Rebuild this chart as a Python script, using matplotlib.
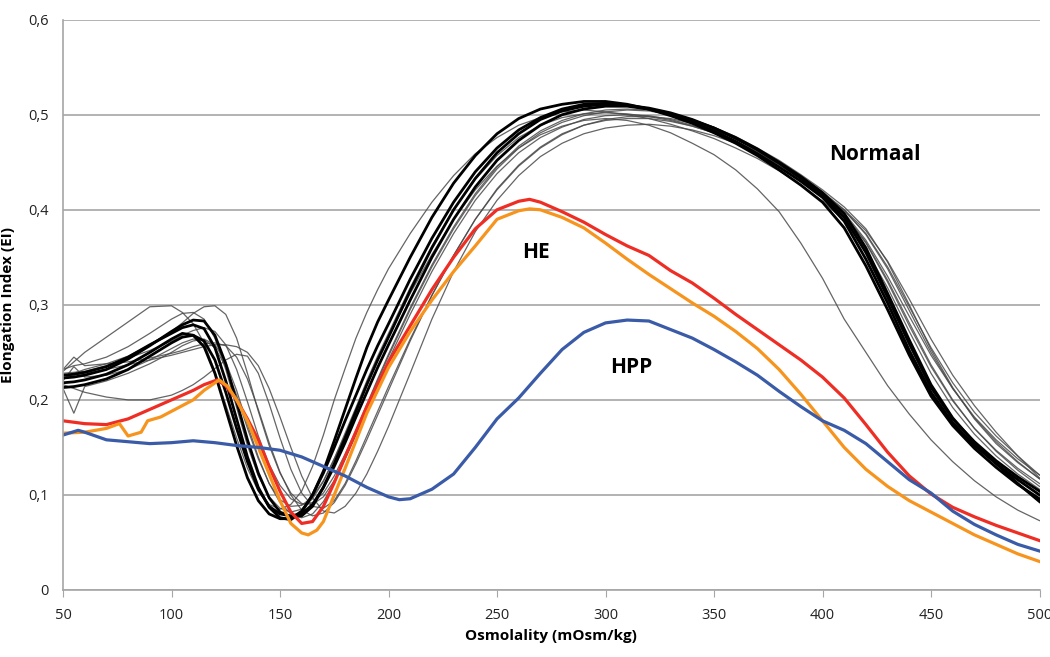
import matplotlib
matplotlib.use("Agg")
import matplotlib.pyplot as plt
from matplotlib.ticker import FuncFormatter

plt.rcParams['font.family'] = ['Open Sans', 'DejaVu Sans']

# shared osmolality grid for the "Normaal" traces
xn = [50, 55, 60, 70, 80, 90, 100, 105, 110, 115, 120, 125, 130, 135, 140, 145,
      150, 155, 160, 165, 170, 175, 180, 185, 190, 195, 200, 210, 220, 230, 240,
      250, 260, 270, 280, 290, 300, 310, 320, 330, 340, 350, 360, 370, 380, 390,
      400, 410, 420, 430, 440, 450, 460, 470, 480, 490, 500]

# thick black normal traces
norm_a = [0.218, 0.219, 0.221, 0.227, 0.237, 0.250, 0.264, 0.270, 0.268, 0.256, 0.228, 0.190, 0.152, 0.118, 0.094, 0.080,
          0.075, 0.075, 0.083, 0.100, 0.123, 0.150, 0.178, 0.205, 0.232, 0.257, 0.280, 0.327, 0.370, 0.408, 0.440,
          0.465, 0.484, 0.497, 0.506, 0.511, 0.512, 0.510, 0.506, 0.500, 0.492, 0.483, 0.472, 0.459, 0.445, 0.430,
          0.413, 0.388, 0.348, 0.302, 0.252, 0.208, 0.176, 0.152, 0.133, 0.116, 0.100]
norm_b = [0.223, 0.224, 0.226, 0.232, 0.243, 0.257, 0.272, 0.279, 0.284, 0.283, 0.268, 0.238, 0.198, 0.158, 0.123, 0.097,
          0.082, 0.077, 0.078, 0.088, 0.108, 0.133, 0.160, 0.188, 0.216, 0.242, 0.266, 0.315, 0.360, 0.400, 0.433,
          0.460, 0.480, 0.495, 0.504, 0.509, 0.511, 0.510, 0.507, 0.502, 0.495, 0.486, 0.476, 0.464, 0.450, 0.435,
          0.418, 0.396, 0.360, 0.312, 0.263, 0.216, 0.181, 0.155, 0.133, 0.112, 0.093]
norm_c = [0.213, 0.214, 0.216, 0.222, 0.232, 0.246, 0.260, 0.266, 0.268, 0.262, 0.242, 0.208, 0.170, 0.135, 0.106, 0.088,
          0.080, 0.078, 0.080, 0.090, 0.108, 0.130, 0.155, 0.182, 0.208, 0.234, 0.258, 0.305, 0.350, 0.390, 0.424,
          0.452, 0.473, 0.489, 0.500, 0.506, 0.509, 0.509, 0.506, 0.501, 0.494, 0.486, 0.475, 0.463, 0.449, 0.433,
          0.415, 0.392, 0.355, 0.308, 0.259, 0.213, 0.180, 0.156, 0.136, 0.119, 0.104]
norm_d = [0.226, 0.227, 0.229, 0.235, 0.245, 0.258, 0.270, 0.276, 0.279, 0.275, 0.255, 0.220, 0.180, 0.140, 0.108, 0.087,
          0.076, 0.074, 0.082, 0.100, 0.125, 0.157, 0.190, 0.223, 0.255, 0.282, 0.305, 0.350, 0.392, 0.428, 0.457,
          0.480, 0.496, 0.506, 0.511, 0.514, 0.514, 0.511, 0.506, 0.499, 0.491, 0.481, 0.470, 0.457, 0.442, 0.426,
          0.408, 0.381, 0.341, 0.295, 0.247, 0.204, 0.173, 0.149, 0.129, 0.111, 0.096]

# thin grey normal traces
norm_t1 = [0.230, 0.240, 0.250, 0.266, 0.282, 0.298, 0.299, 0.292, 0.280, 0.260, 0.230, 0.195, 0.160, 0.128, 0.104, 0.090,
           0.085, 0.090, 0.104, 0.130, 0.163, 0.200, 0.233, 0.265, 0.292, 0.316, 0.338, 0.375, 0.408, 0.436, 0.459,
           0.476, 0.489, 0.497, 0.503, 0.505, 0.503, 0.500, 0.496, 0.490, 0.483, 0.475, 0.465, 0.454, 0.441, 0.426,
           0.409, 0.389, 0.358, 0.318, 0.272, 0.228, 0.192, 0.164, 0.141, 0.122, 0.106]
norm_t2 = [0.222, 0.228, 0.232, 0.238, 0.246, 0.258, 0.272, 0.281, 0.291, 0.298, 0.299, 0.290, 0.265, 0.228, 0.188, 0.152,
           0.123, 0.102, 0.091, 0.090, 0.098, 0.115, 0.138, 0.163, 0.190, 0.216, 0.242, 0.290, 0.335, 0.375, 0.410,
           0.438, 0.460, 0.476, 0.487, 0.495, 0.499, 0.500, 0.499, 0.495, 0.489, 0.481, 0.471, 0.460, 0.447, 0.432,
           0.416, 0.397, 0.368, 0.330, 0.288, 0.247, 0.212, 0.182, 0.158, 0.138, 0.121]
norm_t3 = [0.232, 0.236, 0.238, 0.245, 0.256, 0.270, 0.285, 0.291, 0.292, 0.285, 0.265, 0.232, 0.192, 0.152, 0.120, 0.098,
           0.086, 0.082, 0.085, 0.096, 0.114, 0.138, 0.165, 0.192, 0.220, 0.246, 0.270, 0.318, 0.362, 0.400, 0.432,
           0.457, 0.476, 0.489, 0.497, 0.501, 0.502, 0.501, 0.498, 0.494, 0.488, 0.481, 0.472, 0.461, 0.448, 0.433,
           0.416, 0.396, 0.365, 0.324, 0.278, 0.235, 0.199, 0.170, 0.147, 0.128, 0.112]
norm_t4 = [0.216, 0.212, 0.208, 0.203, 0.200, 0.200, 0.205, 0.210, 0.216, 0.224, 0.233, 0.242, 0.248, 0.246, 0.228, 0.196,
           0.160, 0.127, 0.102, 0.088, 0.086, 0.094, 0.112, 0.136, 0.162, 0.188, 0.214, 0.264, 0.310, 0.352, 0.390,
           0.422, 0.447, 0.466, 0.480, 0.489, 0.494, 0.496, 0.496, 0.493, 0.488, 0.481, 0.472, 0.461, 0.448, 0.433,
           0.417, 0.399, 0.375, 0.340, 0.298, 0.255, 0.218, 0.187, 0.162, 0.141, 0.121]
norm_t5 = [0.225, 0.226, 0.228, 0.232, 0.237, 0.242, 0.247, 0.250, 0.253, 0.256, 0.258, 0.258, 0.256, 0.250, 0.236, 0.212,
           0.182, 0.150, 0.120, 0.097, 0.083, 0.081, 0.088, 0.102, 0.122, 0.146, 0.172, 0.228, 0.285, 0.335, 0.377,
           0.410, 0.436, 0.456, 0.470, 0.480, 0.486, 0.489, 0.490, 0.488, 0.484, 0.478, 0.470, 0.460, 0.448, 0.434,
           0.418, 0.400, 0.378, 0.346, 0.306, 0.264, 0.226, 0.194, 0.166, 0.141, 0.118]
norm_t6 = [0.220, 0.235, 0.224, 0.226, 0.232, 0.242, 0.254, 0.260, 0.264, 0.263, 0.255, 0.235, 0.205, 0.170, 0.138, 0.112,
           0.095, 0.088, 0.089, 0.098, 0.115, 0.138, 0.163, 0.190, 0.217, 0.243, 0.267, 0.312, 0.353, 0.390, 0.421,
           0.446, 0.465, 0.479, 0.488, 0.494, 0.496, 0.494, 0.489, 0.481, 0.470, 0.458, 0.442, 0.422, 0.398, 0.365,
           0.328, 0.285, 0.250, 0.215, 0.185, 0.158, 0.135, 0.115, 0.098, 0.084, 0.073]
norm_t7 = [0.212, 0.186, 0.214, 0.220, 0.228, 0.238, 0.250, 0.257, 0.262, 0.264, 0.258, 0.240, 0.210, 0.174, 0.140, 0.112,
           0.092, 0.080, 0.076, 0.080, 0.093, 0.113, 0.138, 0.165, 0.193, 0.220, 0.246, 0.295, 0.340, 0.380, 0.415,
           0.443, 0.465, 0.481, 0.492, 0.499, 0.503, 0.505, 0.504, 0.500, 0.494, 0.486, 0.476, 0.464, 0.450, 0.434,
           0.416, 0.395, 0.366, 0.326, 0.281, 0.237, 0.200, 0.170, 0.146, 0.126, 0.109]
norm_t8 = [0.228, 0.229, 0.230, 0.236, 0.244, 0.252, 0.262, 0.268, 0.273, 0.276, 0.272, 0.258, 0.232, 0.198, 0.162, 0.132,
           0.110, 0.096, 0.090, 0.092, 0.102, 0.120, 0.143, 0.168, 0.195, 0.222, 0.248, 0.297, 0.342, 0.382, 0.417,
           0.445, 0.467, 0.483, 0.494, 0.501, 0.505, 0.506, 0.505, 0.501, 0.495, 0.487, 0.477, 0.465, 0.452, 0.437,
           0.421, 0.403, 0.380, 0.345, 0.300, 0.253, 0.213, 0.180, 0.154, 0.134, 0.117]
norm_t9 = [0.232, 0.245, 0.236, 0.238, 0.240, 0.244, 0.249, 0.252, 0.256, 0.259, 0.260, 0.257, 0.245, 0.222, 0.190, 0.155,
           0.124, 0.100, 0.084, 0.078, 0.081, 0.092, 0.110, 0.133, 0.158, 0.184, 0.210, 0.262, 0.310, 0.352, 0.390,
           0.421, 0.446, 0.465, 0.479, 0.489, 0.495, 0.498, 0.498, 0.496, 0.491, 0.484, 0.475, 0.464, 0.451, 0.436,
           0.419, 0.400, 0.374, 0.338, 0.294, 0.250, 0.212, 0.181, 0.156, 0.135, 0.117]

# HE patients (red, orange) and HPP patient (blue)
x_he1 = [50, 60, 70, 80, 90, 100, 110, 115, 121, 125, 130, 135, 140, 145, 150, 155, 160, 165, 170, 175, 180, 190,
         200, 210, 220, 230, 240, 250, 260, 265, 270, 280, 290, 300, 310, 320, 330, 340, 350, 360, 370, 380, 390,
         400, 410, 420, 430, 440, 450, 460, 470, 480, 490, 500]
y_he1 = [0.178, 0.175, 0.174, 0.180, 0.190, 0.200, 0.210, 0.216, 0.221, 0.215, 0.200, 0.180, 0.158, 0.130, 0.104,
         0.082, 0.070, 0.072, 0.088, 0.113, 0.140, 0.193, 0.240, 0.278, 0.316, 0.350, 0.380, 0.400, 0.409, 0.411,
         0.408, 0.398, 0.387, 0.374, 0.362, 0.352, 0.336, 0.323, 0.307, 0.290, 0.274, 0.258, 0.242, 0.224, 0.202,
         0.174, 0.145, 0.120, 0.101, 0.087, 0.077, 0.068, 0.060, 0.052]

x_he2 = [50, 60, 70, 76, 80, 86, 89, 95, 100, 110, 115, 122, 126, 130, 135, 140, 145, 150, 155, 160, 163, 167, 170,
         175, 180, 190, 200, 210, 220, 230, 240, 250, 260, 265, 270, 280, 290, 300, 310, 320, 330, 340, 350, 360,
         370, 380, 390, 400, 410, 420, 430, 440, 450, 460, 470, 480, 490, 500]
y_he2 = [0.165, 0.166, 0.170, 0.175, 0.162, 0.166, 0.178, 0.182, 0.188, 0.200, 0.210, 0.221, 0.214, 0.200, 0.178,
         0.150, 0.122, 0.094, 0.070, 0.060, 0.058, 0.063, 0.072, 0.100, 0.128, 0.186, 0.234, 0.272, 0.305, 0.335,
         0.362, 0.390, 0.399, 0.401, 0.400, 0.392, 0.381, 0.365, 0.348, 0.332, 0.317, 0.302, 0.288, 0.272, 0.254,
         0.232, 0.206, 0.178, 0.150, 0.127, 0.109, 0.094, 0.082, 0.070, 0.058, 0.048, 0.038, 0.030]

x_hpp = [50, 57, 60, 70, 80, 90, 100, 110, 120, 130, 140, 150, 160, 170, 180, 190, 200, 205, 210, 220, 230, 240,
         250, 260, 270, 280, 290, 300, 310, 320, 330, 340, 350, 360, 370, 380, 390, 400, 410, 420, 430, 440, 450,
         460, 470, 480, 490, 500]
y_hpp = [0.163, 0.168, 0.166, 0.158, 0.156, 0.154, 0.155, 0.157, 0.155, 0.152, 0.150, 0.147, 0.140, 0.130, 0.120,
         0.108, 0.098, 0.095, 0.096, 0.106, 0.122, 0.150, 0.180, 0.202, 0.228, 0.253, 0.271, 0.281, 0.284, 0.283,
         0.274, 0.265, 0.253, 0.240, 0.226, 0.209, 0.193, 0.178, 0.168, 0.154, 0.135, 0.116, 0.102, 0.083, 0.069,
         0.058, 0.048, 0.041]

thin = [norm_t1, norm_t2, norm_t3, norm_t4, norm_t5, norm_t6, norm_t7, norm_t8, norm_t9]
thick = [norm_a, norm_b, norm_c, norm_d]

fig = plt.figure(figsize=(10.5, 6.57), dpi=100)
ax = fig.add_axes([0.060, 0.102, 0.930, 0.868])

for y in thin:
    ax.plot(xn, y, color="#4a4a4a", lw=0.9, alpha=0.85)
for y in thick:
    ax.plot(xn, y, color="black", lw=2.0)

ax.plot(x_he1, y_he1, color="#ee2e24", lw=2.3)
ax.plot(x_he2, y_he2, color="#f7941d", lw=2.3)
ax.plot(x_hpp, y_hpp, color="#3a5ba8", lw=2.3)

ax.text(424, 0.458, "Normaal", fontsize=15, fontweight="bold", ha="center", va="center")
ax.text(268, 0.355, "HE", fontsize=15, fontweight="bold", ha="center", va="center")
ax.text(312, 0.234, "HPP", fontsize=15, fontweight="bold", ha="center", va="center")

ax.set_xlim(50, 500)
ax.set_ylim(0, 0.6)
ax.set_xticks(range(50, 501, 50))
ax.set_yticks([0, 0.1, 0.2, 0.3, 0.4, 0.5, 0.6])
ax.yaxis.set_major_formatter(FuncFormatter(lambda v, p: "0" if v == 0 else ("%.1f" % v).replace(".", ",")))
ax.grid(axis="y", color="#a6a6a6", lw=1.2)
ax.set_axisbelow(True)

for s in ["top", "right"]:
    ax.spines[s].set_visible(False)
ax.spines["left"].set_color("#a6a6a6")
ax.spines["bottom"].set_color("#a6a6a6")
ax.spines["left"].set_linewidth(1.2)
ax.spines["bottom"].set_linewidth(1.2)
ax.tick_params(axis="y", length=0, pad=10, labelsize=10.5, labelcolor="#222222")
ax.tick_params(axis="x", length=5, color="#a6a6a6", pad=8, labelsize=10.5, labelcolor="#222222")

ax.set_xlabel("Osmolality (mOsm/kg)", fontsize=11, fontweight="bold", labelpad=4)
ax.set_ylabel("Elongation Index (EI)", fontsize=11, fontweight="bold", labelpad=10)

plt.savefig("out.png", dpi=100)
